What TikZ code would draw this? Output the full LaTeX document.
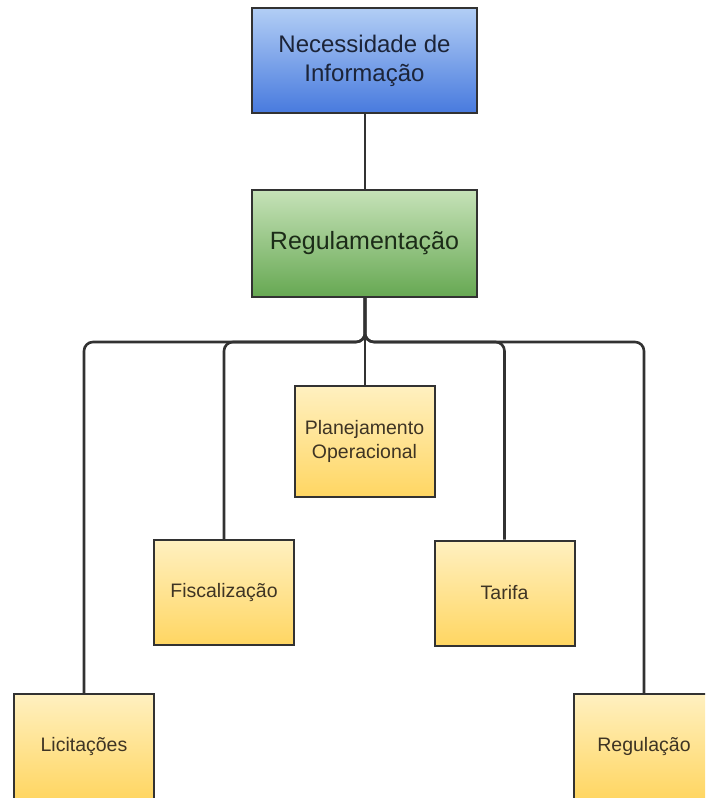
\documentclass[tikz,border=0pt]{standalone}
\usepackage{fontspec}
\setmainfont{Liberation Sans}
\definecolor{blueTop}{RGB}{178,206,245}
\definecolor{blueBot}{RGB}{72,122,222}
\definecolor{greenTop}{RGB}{198,226,184}
\definecolor{greenBot}{RGB}{102,168,82}
\definecolor{yelTop}{RGB}{255,240,192}
\definecolor{yelBot}{RGB}{255,214,98}
\definecolor{edgeCol}{RGB}{50,50,50}
\definecolor{blueTxt}{RGB}{28,36,56}
\definecolor{greenTxt}{RGB}{28,44,24}
\definecolor{yelTxt}{RGB}{62,52,36}
\begin{document}
\begin{tikzpicture}[x=1pt,y=-1pt,
  box/.style={draw=edgeCol, line width=2pt, rectangle, align=center, inner sep=2pt},
  bluebox/.style={box, top color=blueTop, bottom color=blueBot,
    text=blueTxt, font=\fontsize{24}{29}\selectfont},
  greenbox/.style={box, top color=greenTop, bottom color=greenBot,
    text=greenTxt, font=\fontsize{25}{28}\selectfont},
  yellowbox/.style={box, top color=yelTop, bottom color=yelBot,
    text=yelTxt, font=\fontsize{19.5}{24}\selectfont,
    minimum width=140pt, minimum height=105pt},
  link/.style={draw=edgeCol, line width=2.6pt, rounded corners=9pt}
]
\clip (0,0) rectangle (705,798);
\fill[white] (0,0) rectangle (705,798);

% top level
\node[bluebox, minimum width=225pt, minimum height=105pt] (need) at (364.5,60.5) {Necessidade de\\Informação};
\node[greenbox, minimum width=225pt, minimum height=107pt] (reg) at (364.5,243.5) {Regulamentação};

% subordinate topics
\node[yellowbox, minimum height=111pt] (plan) at (364.5,441.5) {Planejamento\\Operacional};
\node[yellowbox] (fisc) at (224,592.5) {Fiscalização};
\node[yellowbox] (tar) at (504.5,593) {Tarifa};
\node[yellowbox] (lic) at (84,746.5) {Licitações};
\node[yellowbox] (regu) at (644,746.5) {Regulação};

% connectors
\coordinate (bus) at (365,342);
\draw[link] (need.south -| 365,0) -- (reg.north -| 365,0);
\draw[link] (reg.south -| 365,0) -- (plan.north -| 365,0);
\draw[link] (reg.south -| 365,0) -- (bus) -| (lic.north);
\draw[link] (reg.south -| 365,0) -- (bus) -| (fisc.north);
\draw[link] (reg.south -| 365,0) -- (bus) -| (tar.north);
\draw[link] (reg.south -| 365,0) -- (bus) -| (regu.north);
\end{tikzpicture}
\end{document}
